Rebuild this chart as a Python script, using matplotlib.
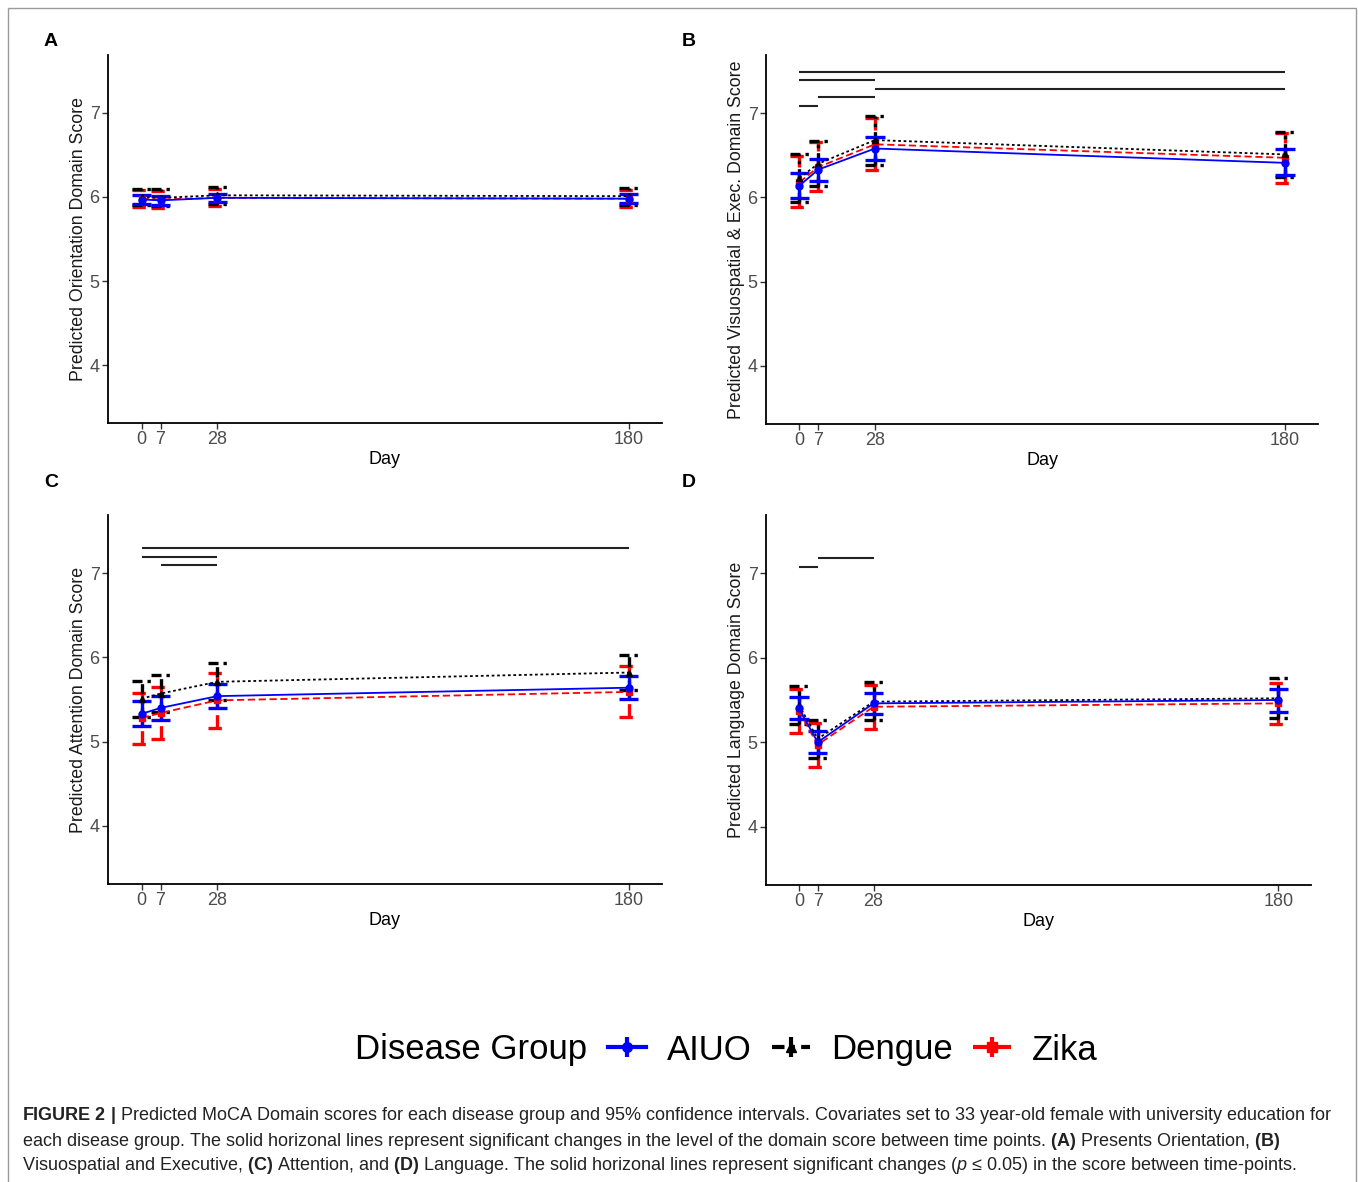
import numpy as np
import matplotlib
matplotlib.use("Agg")
import matplotlib.pyplot as plt
from matplotlib.lines import Line2D
from matplotlib.patches import Rectangle

plt.rcParams['font.family'] = ['Liberation Sans', 'DejaVu Sans']
plt.rcParams['mathtext.fontset'] = 'custom'
plt.rcParams['mathtext.rm'] = 'Liberation Sans'
plt.rcParams['mathtext.bf'] = 'Liberation Sans:bold'
plt.rcParams['mathtext.it'] = 'Liberation Sans:italic'

'''Data read off the figure'''
days = [0, 7, 28, 180]
groups = ['AIUO', 'Dengue', 'Zika']

# A: Orientation
orient_mean = {'AIUO': [5.97, 5.96, 5.99, 5.98],
               'Dengue': [6.00, 5.99, 6.02, 6.01],
               'Zika': [5.98, 5.97, 5.99, 5.98]}
orient_lo = {'AIUO': [5.92, 5.91, 5.94, 5.93],
             'Dengue': [5.90, 5.89, 5.92, 5.91],
             'Zika': [5.88, 5.87, 5.89, 5.88]}
orient_hi = {'AIUO': [6.02, 6.01, 6.04, 6.03],
             'Dengue': [6.10, 6.09, 6.12, 6.11],
             'Zika': [6.08, 6.07, 6.09, 6.08]}

# B: Visuospatial & Executive
visuo_mean = {'AIUO': [6.14, 6.33, 6.58, 6.41],
              'Dengue': [6.23, 6.40, 6.68, 6.51],
              'Zika': [6.18, 6.36, 6.63, 6.47]}
visuo_lo = {'AIUO': [5.99, 6.19, 6.44, 6.26],
            'Dengue': [5.94, 6.13, 6.39, 6.24],
            'Zika': [5.88, 6.07, 6.32, 6.17]}
visuo_hi = {'AIUO': [6.29, 6.46, 6.72, 6.57],
            'Dengue': [6.51, 6.67, 6.97, 6.78],
            'Zika': [6.49, 6.66, 6.94, 6.77]}

# C: Attention
attn_mean = {'AIUO': [5.33, 5.40, 5.54, 5.64],
             'Dengue': [5.51, 5.57, 5.71, 5.82],
             'Zika': [5.28, 5.34, 5.49, 5.59]}
attn_lo = {'AIUO': [5.19, 5.26, 5.40, 5.51],
           'Dengue': [5.29, 5.35, 5.50, 5.61],
           'Zika': [4.97, 5.03, 5.16, 5.29]}
attn_hi = {'AIUO': [5.48, 5.54, 5.68, 5.78],
           'Dengue': [5.72, 5.79, 5.93, 6.03],
           'Zika': [5.58, 5.65, 5.82, 5.90]}

# D: Language
lang_mean = {'AIUO': [5.40, 5.00, 5.46, 5.50],
             'Dengue': [5.44, 5.04, 5.48, 5.52],
             'Zika': [5.37, 4.97, 5.42, 5.46]}
lang_lo = {'AIUO': [5.28, 4.87, 5.33, 5.36],
           'Dengue': [5.22, 4.81, 5.26, 5.29],
           'Zika': [5.11, 4.71, 5.16, 5.21]}
lang_hi = {'AIUO': [5.53, 5.13, 5.58, 5.63],
           'Dengue': [5.66, 5.26, 5.71, 5.76],
           'Zika': [5.63, 5.23, 5.68, 5.70]}

# significance bars: (start day, end day, level)
visuo_sig = [(0, 180, 7.49), (0, 28, 7.39), (28, 180, 7.29), (7, 28, 7.19), (0, 7, 7.09)]
attn_sig = [(0, 180, 7.30), (0, 28, 7.19), (7, 28, 7.10)]
lang_sig = [(7, 28, 7.18), (0, 7, 7.08)]

ylabels = ['Predicted Orientation Domain Score',
           'Predicted Visuospatial & Exec. Domain Score',
           'Predicted Attention Domain Score',
           'Predicted Language Domain Score']

'''Styles'''
col = {'AIUO': 'blue', 'Dengue': 'black', 'Zika': 'red'}
line_ls = {'AIUO': '-', 'Dengue': (0, (1.5, 1.5)), 'Zika': (0, (4, 2))}
err_ls = {'AIUO': '-', 'Dengue': (0, (3, 1.5, 1, 1.5)), 'Zika': (0, (4, 2))}
mark = {'AIUO': 'o', 'Dengue': '^', 'Zika': 's'}
draw_order = ['Zika', 'Dengue', 'AIUO']
cap_half = 3.6

W, H = 1358, 1182
fig = plt.figure(figsize=(W / 100, H / 100), dpi=100)


def px_axes(l, t, r, b):
    return fig.add_axes([l / W, 1 - b / H, (r - l) / W, (b - t) / H])


def draw_panel(ax, means, lows, highs, sig, ylabel):
    for g in draw_order:
        x = np.array(days, dtype=float)
        ax.vlines(x, lows[g], highs[g], colors=col[g], linestyles=err_ls[g], lw=2.4, zorder=2)
        ax.hlines(lows[g], x - cap_half, x + cap_half, colors=col[g], linestyles=err_ls[g], lw=2.4, zorder=2)
        ax.hlines(highs[g], x - cap_half, x + cap_half, colors=col[g], linestyles=err_ls[g], lw=2.4, zorder=2)
        ax.plot(x, means[g], color=col[g], ls=line_ls[g], lw=1.3, marker=mark[g], ms=5, zorder=3)
    for s, e, lev in sig:
        ax.hlines(lev, s, e, colors='#222222', lw=1.5)
    ax.set_xlim(-12.4, 192.3)
    ax.set_ylim(3.31, 7.69)
    ax.set_xticks(days)
    ax.set_yticks([4, 5, 6, 7])
    ax.set_xlabel('Day', fontsize=13, color='black', labelpad=2)
    ax.set_ylabel(ylabel, fontsize=12.8, color='#1a1a1a', labelpad=2)
    ax.tick_params(labelsize=13, labelcolor='#4d4d4d', color='#333333', length=4, width=1, pad=2)
    for sp in ['top', 'right']:
        ax.spines[sp].set_visible(False)
    for sp in ['left', 'bottom']:
        ax.spines[sp].set_linewidth(1.3)


axA = px_axes(108, 55, 662, 423)
axB = px_axes(766, 55, 1318, 424)
axC = px_axes(108, 515, 662, 884)
axD = px_axes(766, 515, 1311, 885)

draw_panel(axA, orient_mean, orient_lo, orient_hi, [], ylabels[0])
draw_panel(axB, visuo_mean, visuo_lo, visuo_hi, visuo_sig, ylabels[1])
draw_panel(axC, attn_mean, attn_lo, attn_hi, attn_sig, ylabels[2])
draw_panel(axD, lang_mean, lang_lo, lang_hi, lang_sig, ylabels[3])

for lab, (x, y) in zip('ABCD', [(51, 41), (689, 41), (51, 483), (689, 483)]):
    fig.text(x / W, 1 - y / H, lab, fontsize=14, fontweight='bold', ha='center', va='center')

# legend
handles = []
for g in groups:
    ln = Line2D([], [], color=col[g], ls=err_ls[g], lw=3, marker=mark[g], ms=7)
    bar = Line2D([], [], color=col[g], marker='|', ls='none', ms=14, mew=3)
    handles.append((ln, bar))
fig.text(355 / W, 1 - 1049 / H, 'Disease Group', fontsize=25, ha='left', va='center')
fig.legend(handles, groups, loc='center left', bbox_to_anchor=(608 / W, 1 - 1050 / H),
           ncol=3, frameon=False, fontsize=25, handlelength=1.1, handletextpad=0.6,
           columnspacing=0.58, borderaxespad=0, borderpad=0)

# caption
cap_lines = [
    r'$\mathbf{FIGURE\ 2\ |}$ Predicted MoCA Domain scores for each disease group and 95% confidence intervals. Covariates set to 33 year-old female with university education for',
    r'each disease group. The solid horizonal lines represent significant changes in the level of the domain score between time points. $\mathbf{(A)}$ Presents Orientation, $\mathbf{(B)}$',
    r'Visuospatial and Executive, $\mathbf{(C)}$ Attention, and $\mathbf{(D)}$ Language. The solid horizonal lines represent significant changes ($p$ ≤ 0.05) in the score between time-points.',
]
for i, t in enumerate(cap_lines):
    fig.text(22 / W, 1 - (1116 + 25 * i) / H, t, fontsize=12.95, color='#222222', ha='left', va='center')

fig.patches.append(Rectangle((8 / W, -0.01), (1356 - 8) / W, 1 - 8 / H + 0.01,
                             transform=fig.transFigure, fill=False, edgecolor='#9a9a9a', lw=1))

fig.savefig('out.png', dpi=100)
